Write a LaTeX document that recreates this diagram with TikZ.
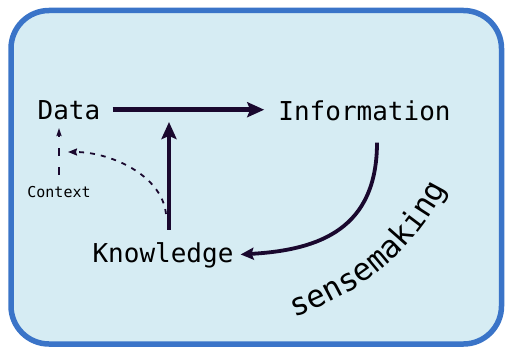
\documentclass[tikz,border=0pt]{standalone}
\usepackage{fontspec}
\newfontfamily\monofont{DejaVu Sans Mono}
\usetikzlibrary{arrows.meta,decorations.text}
\definecolor{panelfill}{RGB}{214,236,243}
\definecolor{panelline}{RGB}{58,116,200}
\definecolor{ink}{RGB}{26,8,46}
\tikzset{
  label/.style={inner sep=0pt, anchor=base, font=\monofont\fontsize{26}{26}\selectfont},
  small/.style={inner sep=0pt, anchor=base, font=\monofont\fontsize{15}{15}\selectfont},
  mainarrow/.style={draw=ink, line width=4.8pt, -{Stealth[length=17pt,width=15pt,inset=3pt]}},
  bendarrow/.style={draw=ink, line width=3.8pt, -{Stealth[length=13pt,width=12pt,inset=2pt]}},
  hintarrow/.style={draw=ink, line width=1.8pt, dash pattern=on 5pt off 6pt,
    -{Stealth[length=9pt,width=7pt,inset=1pt]}},
  ctxarrow/.style={draw=ink, line width=2pt, dash pattern=on 8pt off 11pt,
    -{Stealth[length=8pt,width=5pt,inset=1pt]}},
}
\begin{document}
\begin{tikzpicture}[x=1pt,y=-1pt]
  \useasboundingbox (0,0) rectangle (505,350);
  % panel
  \draw[panelline, fill=panelfill, line width=5.5pt, rounded corners=38pt]
    (11,10.5) rectangle (501.5,344);

  % labels
  \node[label] (data) at (69,119) {Data};
  \node[label] (info) at (364.5,120) {Information};
  \node[label] (know) at (163,262) {Knowledge};
  \node[small] (ctx)  at (59,197) {Context};

  % helper points on the connectors
  \coordinate (split) at (169,109);
  \coordinate (hint) at (166,214);
  \coordinate (ctxtop) at (59,128);

  % Data -> Information
  \draw[mainarrow, shorten <=12pt, shorten >=14pt]
    (data.east) -- (data.east -| info.west);
  % Knowledge -> Data/Information link
  \draw[mainarrow, shorten <=12pt, shorten >=13pt]
    (split |- know.north) -- (split);
  % sensemaking: Information -> Knowledge
  \draw[bendarrow, shorten >=7pt]
    ([shift={(12.5,22)}]info.south)
      .. controls ([shift={(12.5,108)}]info.south) and (320,250) .. (know.east);
  % Context link
  \draw[ctxarrow] (ctx.north -| ctxtop) ++(0,-11) -- (ctxtop);
  \draw[hintarrow] (hint) .. controls (162,175) and (110,152) .. (68,152);

  % curved caption
  \path[decorate, decoration={text along path, text align=center,
      text={|\monofont\fontsize{31}{31}\selectfont|sensemaking}}]
    (286,320) .. controls (352,298) and (414,258) .. (450,180);
\end{tikzpicture}
\end{document}
